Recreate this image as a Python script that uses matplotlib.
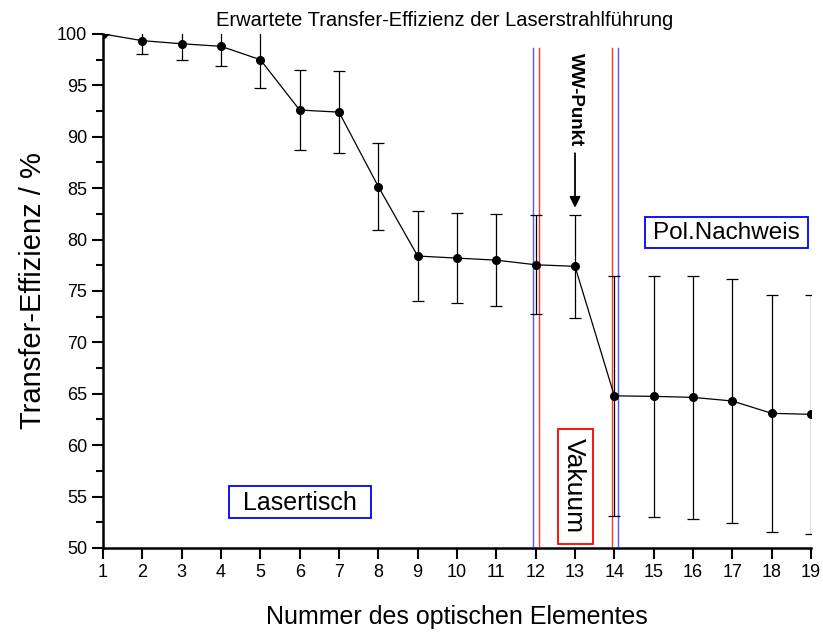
import numpy as np
import matplotlib.pyplot as plt
from matplotlib.patches import Rectangle
from matplotlib.ticker import MultipleLocator

plt.rcParams['font.family'] = ['Liberation Sans', 'DejaVu Sans']

# Transfer-Effizienz je optischem Element
element = list(range(1, 20))
effizienz = [100.0, 99.35, 99.05, 98.8, 97.5, 92.6, 92.4, 85.15, 78.4, 78.2,
             78.0, 77.55, 77.4, 64.8, 64.75, 64.65, 64.3, 63.1, 63.0]
fehler = [0.0, 1.25, 1.55, 1.9, 2.8, 3.9, 4.0, 4.2, 4.4, 4.4,
          4.5, 4.8, 5.0, 11.7, 11.75, 11.8, 11.85, 11.55, 11.65]

# Bereichsgrenzen (blau / rot)
grenzen_blau = [11.94, 14.09]
grenzen_rot = [12.09, 13.94]

fig = plt.figure(figsize=(8.23, 6.33), dpi=100)
ax = fig.add_axes([0.1252, 0.1343, 0.8602, 0.812])

ax.errorbar(element, effizienz, yerr=fehler, color='black', lw=0.9,
            marker='o', ms=5.5, capsize=4.3, elinewidth=0.9, capthick=0.9,
            ecolor='black', zorder=3)

for xb in grenzen_blau:
    ax.plot([xb, xb], [50.2, 98.6], color='#5555ff', lw=1.0, zorder=2)
for xr in grenzen_rot:
    ax.plot([xr, xr], [50.2, 98.6], color='#ff3333', lw=1.0, zorder=2)

ax.set_xlim(1, 19)
ax.set_ylim(50, 100)
ax.xaxis.set_major_locator(MultipleLocator(1))
ax.yaxis.set_major_locator(MultipleLocator(5))
ax.yaxis.set_minor_locator(MultipleLocator(2.5))
ax.tick_params(which='major', direction='out', length=8, width=1.5, labelsize=13)
ax.tick_params(which='minor', direction='out', length=5, width=1.5)
ax.spines['top'].set_visible(False)
ax.spines['right'].set_visible(False)
ax.spines['left'].set_linewidth(1.8)
ax.spines['bottom'].set_linewidth(1.8)

ax.set_xlabel('Nummer des optischen Elementes', fontsize=18, labelpad=17)
ax.set_ylabel('Transfer-Effizienz / %', fontsize=21, labelpad=7)
ax.set_title('Erwartete Transfer-Effizienz der Laserstrahlführung',
             fontsize=14.5, pad=6, x=0.483)

# Beschriftung der Bereiche mit Rahmen
def bereich(x0, x1, y0, y1, farbe):
    ax.add_patch(Rectangle((x0, y0), x1 - x0, y1 - y0, fill=True, fc='white',
                           ec=farbe, lw=1.3, zorder=4))

bereich(4.20, 7.81, 52.92, 56.03, 'blue')
ax.text(6.01, 54.4, 'Lasertisch', fontsize=18, ha='center', va='center', zorder=5)

bereich(14.78, 18.93, 79.15, 82.23, 'blue')
ax.text(16.86, 80.6, 'Pol.Nachweis', fontsize=17.5, ha='center', va='center', zorder=5)

bereich(12.58, 13.47, 50.36, 61.55, 'red')
ax.text(12.97, 56.1, 'Vakuum', fontsize=19, ha='center', va='center',
        rotation=-90, zorder=5)

# WW-Punkt Pfeil
ax.annotate('', xy=(13, 83.1), xytext=(13, 88.4),
            arrowprops=dict(arrowstyle='-|>', color='black', lw=1.3,
                            mutation_scale=16, shrinkA=0, shrinkB=0))
ax.text(13.02, 93.6, 'WW-Punkt', fontsize=13.5, fontweight='bold', rotation=-90,
        ha='center', va='center')

fig.savefig('out.png', dpi=100)
